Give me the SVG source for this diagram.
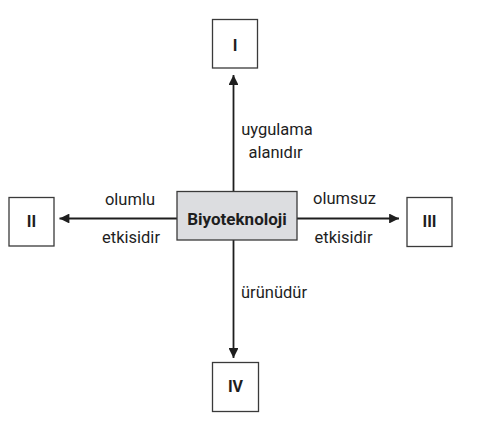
<svg xmlns="http://www.w3.org/2000/svg" width="498" height="427" viewBox="0 0 498 427">
<defs>
<marker id="ah" viewBox="0 0 10 10" refX="10" refY="5" markerWidth="6.5" markerHeight="5.5" orient="auto" markerUnits="strokeWidth">
<path d="M0,0 L10,5 L0,10 z" fill="#1e1e1e"/>
</marker>
<style>
.box{fill:#fff;stroke:#3a3a3a;stroke-width:1.3}
.center{fill:#dcdde0;stroke:#3a3a3a;stroke-width:1.3}
.num{font-family:Roboto,"Liberation Sans",sans-serif;font-weight:bold;font-size:16px;fill:#1e1e1e;text-anchor:middle}
.lbl{font-family:Roboto,"Liberation Sans",sans-serif;font-size:16.5px;fill:#1e1e1e;text-anchor:middle}
.conn{stroke:#1e1e1e;stroke-width:1.8;fill:none;marker-end:url(#ah)}
</style>
</defs>
<rect width="498" height="427" fill="#fff"/>
<g id="connectors">
<line class="conn" x1="233.5" y1="191.5" x2="233.5" y2="75"/>
<line class="conn" x1="233.5" y1="240" x2="233.5" y2="358"/>
<line class="conn" x1="177" y1="218.5" x2="59.5" y2="218.5"/>
<line class="conn" x1="297" y1="218.5" x2="399" y2="218.5"/>
</g>
<g id="center">
<rect class="center" x="177" y="191.5" width="120" height="48.5"/>
<text class="num" x="237" y="225" style="font-size:17px">Biyoteknoloji</text>
</g>
<g id="node-I">
<rect class="box" x="212.5" y="19.5" width="45" height="48.5"/>
<text class="num" x="235" y="51">I</text>
</g>
<g id="node-II">
<rect class="box" x="9" y="197.5" width="45" height="48.5"/>
<text class="num" x="31.5" y="227">II</text>
</g>
<g id="node-III">
<rect class="box" x="407" y="197.5" width="45" height="49"/>
<text class="num" x="429.5" y="227">III</text>
</g>
<g id="node-IV">
<rect class="box" x="212.5" y="362.5" width="46" height="49"/>
<text class="num" x="235.5" y="392">IV</text>
</g>
<g id="labels">
<text class="lbl" x="277" y="135">uygulama</text>
<text class="lbl" x="275.5" y="158">alanıdır</text>
<text class="lbl" x="130" y="205">olumlu</text>
<text class="lbl" x="131" y="243">etkisidir</text>
<text class="lbl" x="344.5" y="204">olumsuz</text>
<text class="lbl" x="343.5" y="243">etkisidir</text>
<text class="lbl" x="241" y="298" style="text-anchor:start">ürünüdür</text>
</g>
</svg>
